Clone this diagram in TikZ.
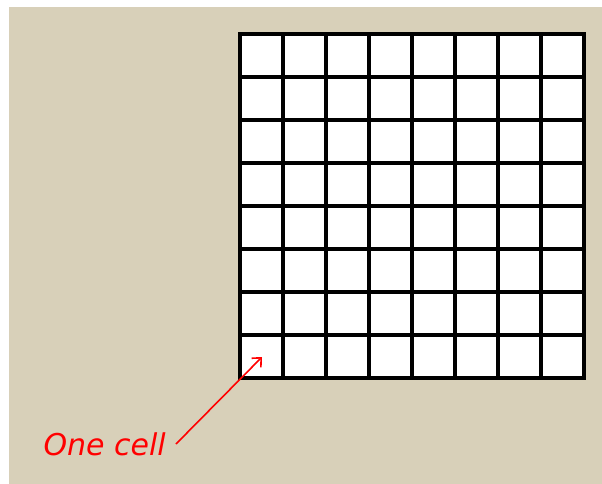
\documentclass[tikz,border=0pt]{standalone}
\usepackage{fontspec}
\setsansfont{DejaVu Sans}
\usetikzlibrary{arrows.meta}
\definecolor{sand}{RGB}{216,208,185}
\begin{document}
\begin{tikzpicture}[x=1pt, y=-1pt, font=\sffamily]
	\useasboundingbox (0,0) rectangle (602,484);
	%background
	\fill[sand] (9,7) rectangle (602,484);
	%grid
	\fill[white] (240,34) rectangle (584,378);
	\foreach \i in {0,...,8}
	{
	\draw[line width=3.8pt, line cap=rect] (240+43*\i,34) -- (240+43*\i,378);
	\draw[line width=3.8pt, line cap=rect] (240,34+43*\i) -- (584,34+43*\i);
	}
	%label
	\node[red, anchor=east, inner sep=0pt, font=\sffamily\itshape\fontsize{30}{36}\selectfont] (lbl) at (166,444) {One cell};
	\coordinate (cell) at (262,357);
	\draw[red, line width=1.6pt, -{Straight Barb[length=7pt, width=13pt]}] ([xshift=10pt]lbl.east) -- (cell);
\end{tikzpicture}
\end{document}
